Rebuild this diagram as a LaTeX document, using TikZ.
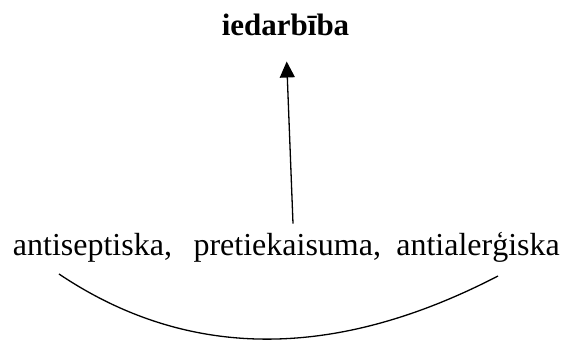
\documentclass[tikz,border=0pt]{standalone}
\usepackage{fontspec}
\setmainfont{Liberation Serif}
\usepackage{tikz}
\usetikzlibrary{arrows.meta}

\begin{document}
\begin{tikzpicture}[x=1pt,y=1pt,>={Triangle[width=15pt,length=16pt]},
  word/.style={inner sep=0pt,font=\fontsize{32}{38}\selectfont},
  link/.style={line width=1.3pt}]
\useasboundingbox (0,0) rectangle (563,340);
\node[word,font=\fontsize{31}{37}\selectfont\bfseries,anchor=base](top) at (285.5,304){iedarbība};
\node[word,anchor=base west](anti) at (12.7,84){antiseptiska,};
\node[word,anchor=base](pret) at (287.3,84){pretiekaisuma,};
\node[word,anchor=base east](aler) at (560,84){antialerģiska};
\draw[link,->]([xshift=5.7pt,yshift=10pt]pret.north)--([xshift=1.2pt,yshift=-25pt]top.south);
\draw[link]([xshift=46.3pt,yshift=-18pt]anti.base west)
  ..controls +(128,-86) and +(-164,-85)..([xshift=-62pt,yshift=-20pt]aler.base east);
\end{tikzpicture}
\end{document}
